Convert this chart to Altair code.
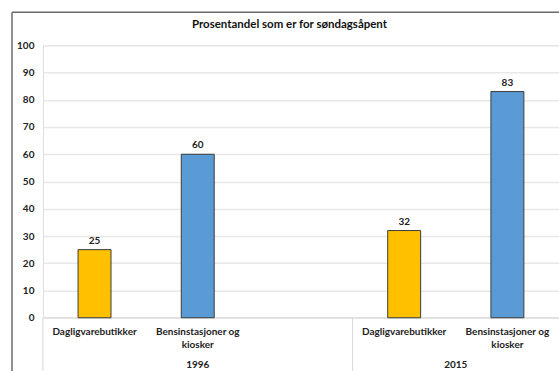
import altair as alt
import pandas as pd

# Chart data
years = ["1996", "1996", "2015", "2015"]
categories = ["Dagligvarebutikker", "Bensinstasjoner og\nkiosker",
              "Dagligvarebutikker", "Bensinstasjoner og\nkiosker"]
values = [25, 60, 32, 83]
bar_colors = ["#FFC000", "#5B9BD5", "#FFC000", "#5B9BD5"]
title_text = "Prosentandel som er for søndagsåpent"
y_ticks = list(range(0, 101, 10))

FONT = "Lato"
W, H = 517, 273

# Slot layout: two categories per year followed by one empty slot
year_order = list(dict.fromkeys(years))
slots = []
within = {}
for yr in years:
    g = year_order.index(yr)
    i = within.get(yr, 0)
    within[yr] = i + 1
    slots.append(g * 3 + i)

bars = pd.DataFrame({"year": years, "category": categories,
                     "value": values, "slot": slots, "color": bar_colors})

# Year group spans and separators
group_rows = []
for g, yr in enumerate(year_order):
    s = bars.loc[bars.year == yr, "slot"]
    start = s.min() - 0.5
    if g + 1 < len(year_order):
        end = bars.loc[bars.year == year_order[g + 1], "slot"].min() - 0.5
    else:
        end = s.max() + 0.5
    group_rows.append({"year": yr, "start": start, "end": end,
                       "mid": (start + end) / 2})
groups = pd.DataFrame(group_rows)

x_scale = alt.Scale(domain=[-0.5, 4.5], nice=False, zero=False, padding=0)
y_scale = alt.Scale(domain=[0, 100], nice=False)
x_enc = alt.X("slot:Q", scale=x_scale, axis=None)

base = alt.Chart(bars)

y_axis = alt.Axis(values=y_ticks, title=None, domain=False, ticks=False,
                  tickSize=0, labelPadding=9, grid=True, labelOverlap=False,
                  gridColor="#E8E8E8", gridWidth=1.5,
                  labelFont=FONT, labelFontSize=10, labelFontWeight="bold",
                  labelColor="#222222")

zero_line = alt.Chart(pd.DataFrame({"v": [0]})).mark_rule(
    color="#D9D9D9", strokeWidth=1).encode(
    y=alt.Y("v:Q", scale=y_scale, axis=y_axis),
    x=alt.value(0), x2=alt.value(W))

bar_layer = base.mark_bar(size=33, stroke="#3a3a3a", strokeWidth=1).encode(
    x=x_enc,
    y=alt.Y("value:Q", scale=y_scale, axis=y_axis),
    color=alt.Color("color:N", scale=None),
)

value_labels = base.mark_text(font=FONT, fontSize=10, fontWeight="bold",
                              baseline="middle", dy=-9, color="#222222").encode(
    x=x_enc, y=alt.Y("value:Q", scale=y_scale, axis=y_axis), text="value:Q")

cat_labels = base.mark_text(font=FONT, fontSize=10, fontWeight="bold",
                            baseline="top", lineBreak="\n", lineHeight=13,
                            color="#222222").encode(
    x=x_enc, y=alt.value(H + 9), text="category:N")

year_labels = alt.Chart(groups).mark_text(font=FONT, fontSize=10, fontWeight="bold",
                                          baseline="top", color="#222222").encode(
    x=alt.X("mid:Q", scale=x_scale, axis=None), y=alt.value(H + 42), text="year:N")

separators = alt.Chart(groups).mark_rule(color="#D9D9D9", strokeWidth=1).encode(
    x=alt.X("start:Q", scale=x_scale, axis=None),
    y=alt.value(H), y2=alt.value(H + 60))

# Chart-area frame (left and top edges)
frame_left = alt.Chart(pd.DataFrame({"v": [0]})).mark_rule(
    color="#6b6b6b", strokeWidth=1.5).encode(
    x=alt.value(-31), y=alt.value(-33), y2=alt.value(H + 60))
frame_top = alt.Chart(pd.DataFrame({"v": [0]})).mark_rule(
    color="#6b6b6b", strokeWidth=1.5).encode(
    x=alt.value(-31), x2=alt.value(W + 10), y=alt.value(-33))

title = alt.Chart(pd.DataFrame({"t": [title_text]})).mark_text(
    font=FONT, fontSize=11.5, fontWeight="bold", baseline="middle",
    color="#111111").encode(x=alt.value(247), y=alt.value(-20), text="t:N")

chart = alt.layer(
    zero_line, separators, bar_layer, value_labels, cat_labels, year_labels,
    frame_left, frame_top, title
).properties(
    width=W, height=H,
    autosize=alt.AutoSizeParams(type="none"),
    padding={"left": 43, "top": 45, "right": 0, "bottom": 53},
).configure_view(stroke=None).configure(background="white")

chart.save("out.html", embed_options={"renderer": "svg", "actions": False})
